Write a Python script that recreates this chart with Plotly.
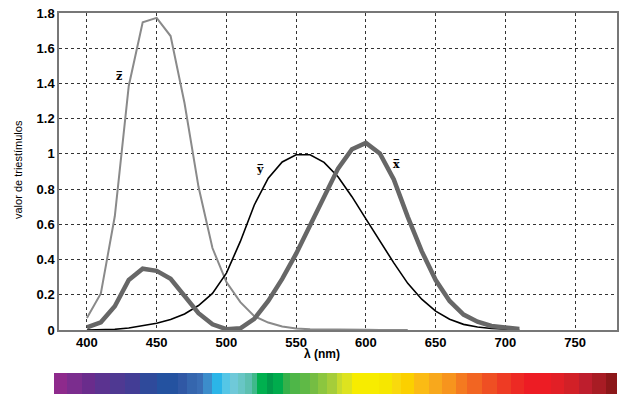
import plotly.graph_objects as go

wavelength = [400, 410, 420, 430, 440, 450, 460, 470, 480, 490, 500, 510, 520, 530, 540, 550,
              560, 570, 580, 590, 600, 610, 620, 630, 640, 650, 660, 670, 680, 690, 700, 710]
x_bar = [0.0143, 0.0435, 0.1344, 0.2839, 0.3483, 0.3362, 0.2908, 0.1954, 0.0956, 0.0320, 0.0049,
         0.0093, 0.0633, 0.1655, 0.2904, 0.4334, 0.5945, 0.7621, 0.9163, 1.0263, 1.0622, 1.0026,
         0.8544, 0.6424, 0.4479, 0.2835, 0.1649, 0.0874, 0.0468, 0.0227, 0.0114, 0.0058]
y_bar = [0.0004, 0.0012, 0.0040, 0.0116, 0.0230, 0.0380, 0.0600, 0.0910, 0.1390, 0.2080, 0.3230,
         0.5030, 0.7100, 0.8620, 0.9540, 0.9950, 0.9950, 0.9520, 0.8700, 0.7570, 0.6310, 0.5030,
         0.3810, 0.2650, 0.1750, 0.1070, 0.0610, 0.0320, 0.0170, 0.0082, 0.0041, 0.0021]
z_wavelength = wavelength[:24]
z_bar = [0.0679, 0.2074, 0.6456, 1.3856, 1.7471, 1.7721, 1.6692, 1.2876, 0.8130, 0.4652, 0.2720,
         0.1582, 0.0783, 0.0422, 0.0203, 0.0088, 0.0039, 0.0021, 0.0017, 0.0011, 0.0008, 0.0003,
         0.0002, 0.0001]

x_ticks = [400, 450, 500, 550, 600, 650, 700, 750]

# spectrum strip: band starts (strip units) and colours
band_starts = [54, 67, 82, 95, 110, 125, 140, 157, 178, 187, 197, 203, 212, 222, 230, 238, 245,
               252, 257, 267, 273, 283, 290, 300, 310, 318, 327, 337, 343, 353, 380, 393, 402,
               415, 430, 443, 457, 468, 483, 498, 512, 525, 552, 565, 580, 593, 607, 618]
band_colors = ["#8E2A8C", "#7B2D8E", "#6A2C8C", "#5B3390", "#4F3992", "#433D95", "#2F4A9B",
               "#2452A0", "#3058A5", "#3566AE", "#3A6EB5", "#3C8DCB", "#2BB5E8", "#55C6E6",
               "#6FC9D9", "#68C6C5", "#5CC0B0", "#3FB98A", "#00B04F", "#009A4A", "#00AC4D",
               "#36B14A", "#4EB648", "#5FB946", "#75BD43", "#8CC63F", "#A5CD3A", "#C7DB2E",
               "#DDE31F", "#F7EC00", "#F6E700", "#F9D90D", "#FBD000", "#FBBB14", "#F8A81C",
               "#F7941D", "#F47A20", "#F26522", "#EF4F23", "#EE3B24", "#ED2A24", "#ED1C24",
               "#E21F26", "#D22027", "#BE1E2D", "#A81C24", "#8C1719"]

fig = go.Figure()

fig.add_trace(go.Scatter(x=z_wavelength, y=z_bar, mode="lines",
                         line=dict(color="#8a8a8a", width=2), hoverinfo="skip"))
fig.add_trace(go.Scatter(x=wavelength, y=y_bar, mode="lines",
                         line=dict(color="#000000", width=1.6), hoverinfo="skip"))
fig.add_trace(go.Scatter(x=wavelength, y=x_bar, mode="lines",
                         line=dict(color="#676767", width=4.5), hoverinfo="skip"))

n = len(band_colors)
cscale = []
for i, c in enumerate(band_colors):
    cscale.append([i / n, c])
    cscale.append([(i + 1) / n, c])
fig.add_trace(go.Heatmap(x=band_starts, y=[0, 1], z=[[i + 0.5 for i in range(n)]],
                         colorscale=cscale, zmin=0, zmax=n,
                         showscale=False, hoverinfo="skip",
                         xaxis="x2", yaxis="y2"))

FAM = "Liberation Sans, Arial, sans-serif"
tickfont = dict(family=FAM, size=13, color="#000", weight="bold")

fig.update_layout(
    width=624, height=394,
    margin=dict(l=53, r=7, t=13, b=0),
    paper_bgcolor="white", plot_bgcolor="white",
    showlegend=False,
    xaxis=dict(domain=[6 / 564, 1], range=[380, 780], tickvals=x_ticks,
               showgrid=True, gridcolor="#333", griddash="dot", gridwidth=1,
               showline=True, linecolor="#777", linewidth=1.5, mirror=True,
               zeroline=False, ticks="", tickfont=tickfont, automargin=False,
               anchor="y"),
    yaxis=dict(domain=[64 / 381, 1], range=[0, 1.8], dtick=0.2,
               showgrid=True, gridcolor="#333", griddash="dot", gridwidth=1,
               showline=True, linecolor="#777", linewidth=1.5, mirror=True,
               zeroline=False, ticks="", tickfont=tickfont, automargin=False,
               anchor="x"),
    xaxis2=dict(domain=[0, 1], range=[53, 618], visible=False, anchor="y2"),
    yaxis2=dict(domain=[0, 21 / 381], range=[0, 1], visible=False, anchor="x2"),
)

fig.add_annotation(xref="paper", yref="paper", x=-0.062, y=0.588, text="valor de triestímulos",
                   textangle=-90, showarrow=False, xanchor="center", yanchor="middle",
                   font=dict(family=FAM, size=11, color="#000"))
fig.add_annotation(xref="paper", yref="paper", x=0.477, y=0.105, text="λ (nm)",
                   showarrow=False, xanchor="center", yanchor="middle",
                   font=dict(family=FAM, size=12, color="#000", weight="bold"))

lab_font = dict(family="DejaVu Serif, serif", size=11, color="#000", weight="bold")
fig.add_annotation(x=423, y=1.44, text="z\u0305", showarrow=False, font=lab_font)
fig.add_annotation(x=524, y=0.91, text="y\u0305", showarrow=False, font=lab_font)
fig.add_annotation(x=622, y=0.94, text="x\u0305", showarrow=False, font=lab_font)

fig.write_html("out.html", config={"displayModeBar": False},
               post_script="document.body.style.margin='0';")
